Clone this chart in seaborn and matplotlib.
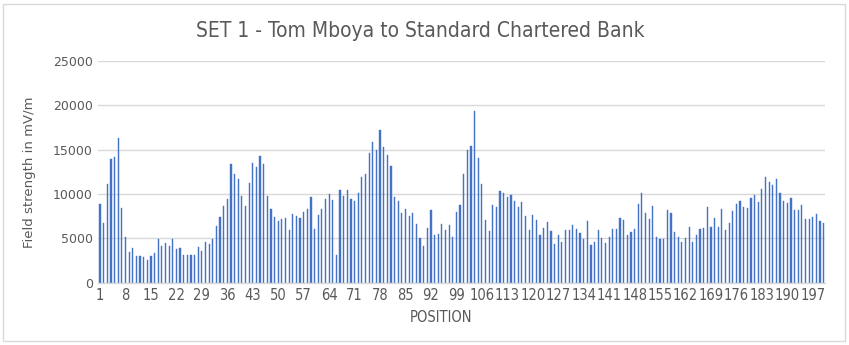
import matplotlib
matplotlib.use("Agg")
import matplotlib.pyplot as plt
from matplotlib import font_manager
from matplotlib.patches import Rectangle
import seaborn as sns
import pandas as pd

positions = list(range(1, 201))
field_strength = [
    8870, 6730, 11130, 13950, 14180, 16280, 8460, 5150, 3420, 3910,
    3050, 2970, 2900, 2560, 3050, 3310, 4890, 4140, 4510, 4170,
    4890, 3800, 3910, 3120, 3160, 3120, 3120, 4020, 3570, 4630,
    4360, 4930, 6350, 7450, 8690, 9440, 13390, 12300, 11690, 9740,
    8690, 11240, 13500, 13090, 14250, 13350, 9740, 8270, 7450, 6960,
    7180, 7260, 5900, 7750, 7520, 7330, 7930, 8310, 9630, 6020,
    7600, 8350, 9440, 10040, 9360, 3100, 10450, 9740, 10420, 9440,
    9250, 10080, 11920, 12260, 14660, 15870, 14970, 17220, 15340, 14400,
    13200, 9700, 9250, 7820, 8310, 7560, 7860, 6580, 5040, 4100,
    6130, 8200, 5380, 5490, 6620, 5980, 6510, 5110, 7970, 8720,
    12300, 14970, 15420, 19360, 14030, 11090, 7110, 5870, 8720, 8500,
    10340, 10080, 9630, 9890, 9170, 8540, 9100, 7480, 5940, 7600,
    7070, 5380, 6170, 6840, 5790, 4360, 5380, 4550, 5980, 5980,
    6470, 6050, 5600, 4930, 6920, 4250, 4630, 5900, 5080, 4510,
    5150, 6050, 6050, 7290, 7070, 5380, 5750, 6020, 8870, 10110,
    7820, 7220, 8610, 5150, 4930, 4930, 8200, 7860, 5750, 5150,
    4590, 5000, 6320, 4630, 5340, 6090, 6170, 8500, 6280, 7290,
    6320, 8270, 5980, 6730, 8050, 8840, 9250, 8540, 8420, 9590,
    9890, 9060, 10530, 11920, 11360, 10980, 11730, 10080, 9250, 8990,
    9510, 8200, 8200, 8760, 7180, 7140, 7370, 7750, 6960, 6770,
]
y_ticks = [0, 5000, 10000, 15000, 20000, 25000]
x_tick_step = 7

title = "SET 1 - Tom Mboya to Standard Chartered Bank"
x_label = "POSITION"
y_label = "Field strength in mV/m"

sns.set_theme(style="white")
plt.rcParams["font.family"] = ["DejaVu Sans"]

# look for a condensed / narrow regular face installed on the system
narrow_file = None
pref = ["LiberationSansNarrow-Regular", "DejaVuSansCondensed.ttf"]
files = [f.fname for f in font_manager.fontManager.ttflist]
for p in pref:
    for fn in files:
        if p in fn:
            narrow_file = fn
            break
    if narrow_file:
        break
if narrow_file is None:
    import glob
    for pat in ["/usr/share/fonts/**/LiberationSansNarrow-Regular.ttf",
                "/usr/share/fonts/**/DejaVuSansCondensed.ttf"]:
        g = glob.glob(pat, recursive=True)
        if g:
            narrow_file = g[0]
            break


def narrow_fp(size):
    if narrow_file:
        return font_manager.FontProperties(fname=narrow_file, size=size)
    return font_manager.FontProperties(family="DejaVu Sans", size=size * 0.85)


grey = "#595959"
bar_color = "#4472C4"

df = pd.DataFrame({"pos": positions, "val": field_strength})

fig = plt.figure(figsize=(8.49, 3.45), dpi=100)
ax = fig.add_axes([0.1157, 0.1806, 0.9723 - 0.1157, 0.8232 - 0.1806])

sns.barplot(data=df, x="pos", y="val", order=positions, color=bar_color,
            saturation=1, width=0.34, ax=ax, errorbar=None,
            edgecolor=bar_color, linewidth=0.3)

ax.set_ylim(0, 25000)
ax.set_xlim(-0.5, len(positions) - 0.5)
ax.set_yticks(y_ticks)
ax.set_yticklabels([str(t) for t in y_ticks], color=grey, fontsize=9)
tick_idx = list(range(0, len(positions), x_tick_step))
ax.set_xticks(tick_idx)
ax.set_xticklabels([str(positions[i]) for i in tick_idx], color=grey,
                   fontproperties=narrow_fp(10.5))
ax.tick_params(axis="both", length=0, pad=4)
ax.yaxis.grid(True, color="#D9D9D9", linewidth=1)
ax.set_axisbelow(True)
for s in ["left", "right", "top"]:
    ax.spines[s].set_visible(False)
ax.spines["bottom"].set_color("#D9D9D9")
ax.spines["bottom"].set_linewidth(1)

ax.set_xlabel("")
ax.set_ylabel(y_label, color=grey, fontsize=9.5, labelpad=12)
fig.text(441 / 849, 1 - 318 / 345, x_label, ha="center", va="center",
         color=grey, fontproperties=narrow_fp(10.5))

fig.text(0.495, 1 - 31 / 345, title, ha="center", va="center", color=grey,
         fontproperties=narrow_fp(15))

fig.patches.append(Rectangle((3 / 849, 4 / 345), 842 / 849, 337 / 345,
                             transform=fig.transFigure, fill=False,
                             edgecolor="#D9D9D9", linewidth=1))

fig.savefig("out.png", dpi=100)
